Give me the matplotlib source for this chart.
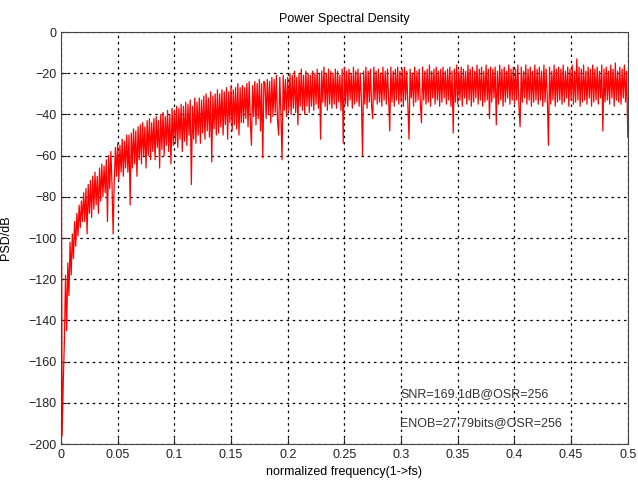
import matplotlib
matplotlib.use('Agg')
import matplotlib.pyplot as plt
import numpy as np

plt.rcParams['font.family'] = ['Liberation Sans', 'DejaVu Sans']

# PSD values (dB), one row per 0.02 of normalized frequency
psd_rows = [
    [0, -196, -170, -150, -118, -145, -112, -128, -102, -118, -98, -110, -92, -104, -88, -99, -84, -95, -82, -92],
    [-78, -92, -76, -98, -74, -88, -72, -90, -70, -86, -68, -84, -70, -88, -66, -82, -64, -80, -65, -78],
    [-62, -92, -60, -76, -58, -74, -98, -72, -56, -70, -54, -72, -55, -68, -52, -70, -53, -66, -50, -68],
    [-50, -84, -49, -66, -47, -64, -48, -70, -46, -62, -45, -64, -44, -60, -46, -66, -43, -60, -42, -62],
    [-44, -58, -42, -62, -41, -56, -43, -66, -40, -57, -39, -60, -41, -55, -38, -58, -40, -64, -37, -55],
    [-38, -54, -36, -56, -37, -52, -35, -58, -36, -53, -34, -55, -35, -50, -33, -74, -36, -52, -32, -54],
    [-34, -50, -32, -54, -33, -49, -31, -52, -30, -48, -32, -51, -29, -63, -31, -47, -30, -50, -28, -49],
    [-30, -46, -28, -50, -29, -45, -27, -52, -29, -44, -26, -48, -28, -45, -27, -47, -25, -50, -27, -44],
    [-26, -44, -27, -42, -25, -46, -24, -43, -55, -26, -41, -24, -45, -25, -42, -23, -48, -25, -61, -24],
    [-25, -42, -23, -40, -24, -44, -22, -41, -23, -39, -21, -43, -50, -22, -40, -62, -21, -38, -23, -41],
    [-22, -38, -20, -40, -21, -37, -19, -39, -22, -45, -20, -36, -18, -38, -21, -40, -19, -36, -20, -39],
    [-21, -36, -19, -38, -20, -35, -18, -37, -20, -52, -19, -34, -17, -36, -20, -38, -18, -35, -19, -37],
    [-20, -35, -18, -37, -19, -34, -21, -38, -18, -54, -17, -35, -19, -36, -18, -33, -20, -37, -17, -35],
    [-19, -34, -18, -36, -20, -33, -60, -19, -35, -17, -37, -19, -34, -18, -36, -42, -17, -33, -19, -35],
    [-18, -34, -20, -36, -17, -33, -19, -35, -18, -32, -48, -17, -34, -19, -36, -18, -33, -17, -35, -19],
    [-34, -18, -36, -17, -33, -19, -35, -52, -18, -32, -20, -36, -17, -34, -19, -33, -18, -35, -44, -17],
    [-33, -19, -35, -18, -34, -16, -36, -19, -32, -18, -35, -17, -33, -19, -36, -18, -34, -17, -32, -19],
    [-35, -18, -33, -17, -36, -19, -49, -18, -34, -16, -35, -19, -33, -17, -36, -18, -32, -19, -35, -16],
    [-33, -18, -36, -17, -34, -19, -32, -16, -35, -18, -33, -17, -36, -19, -34, -16, -33, -18, -42, -17],
    [-34, -18, -32, -17, -45, -19, -35, -16, -33, -18, -36, -17, -34, -19, -32, -16, -35, -18, -33, -17],
    [-35, -18, -33, -16, -36, -46, -17, -34, -19, -32, -16, -35, -18, -33, -17, -36, -19, -34, -16, -33],
    [-18, -35, -17, -33, -19, -36, -16, -34, -18, -32, -55, -17, -35, -19, -33, -16, -36, -18, -34, -17],
    [-33, -18, -35, -16, -34, -19, -32, -17, -36, -18, -33, -16, -35, -19, -34, -13, -33, -17, -36, -18],
    [-34, -16, -33, -19, -35, -17, -32, -18, -36, -16, -34, -18, -33, -17, -35, -19, -32, -16, -48, -18],
    [-34, -17, -33, -19, -35, -16, -32, -18, -36, -15, -33, -19, -34, -17, -35, -18, -32, -16, -34, -19],
    [-51],
]
psd_db = np.concatenate([np.array(r, dtype=float) for r in psd_rows])
freq = np.linspace(0, 0.5, len(psd_db))

x_ticks = [0, 0.05, 0.1, 0.15, 0.2, 0.25, 0.3, 0.35, 0.4, 0.45, 0.5]
x_tick_labels = ['0', '0.05', '0.1', '0.15', '0.2', '0.25', '0.3', '0.35', '0.4', '0.45', '0.5']
y_ticks = list(range(-200, 1, 20))

snr_text = 'SNR=169.1dB@OSR=256'
enob_text = 'ENOB=27.79bits@OSR=256'

fig = plt.figure(figsize=(6.38, 4.86), dpi=100)
ax = fig.add_axes([0.0956, 0.0864, 0.8884, 0.8476])

ax.plot(freq, psd_db, color='red', linewidth=0.9)

ax.set_xlim(0, 0.5)
ax.set_ylim(-200, 0)
ax.set_xticks(x_ticks)
ax.set_xticklabels(x_tick_labels)
ax.set_yticks(y_ticks)
ax.tick_params(direction='in', labelsize=9, length=4, colors='#222222')
ax.grid(True, color='black', linestyle=(0, (2, 3)), linewidth=0.9)
for s in ax.spines.values():
    s.set_color('#444444')

ax.set_title('Power Spectral Density', fontsize=9, pad=7)
ax.set_xlabel('normalized frequency(1->fs)', fontsize=9, labelpad=4)
ax.set_ylabel('PSD/dB', fontsize=9)
ax.yaxis.set_label_coords(-0.086, 0.5)

ax.text(0.299, -176, snr_text, fontsize=9, va='center', color='#333333')
ax.text(0.299, -190, enob_text, fontsize=9, va='center', color='#333333')

fig.savefig('out.png', dpi=100)
